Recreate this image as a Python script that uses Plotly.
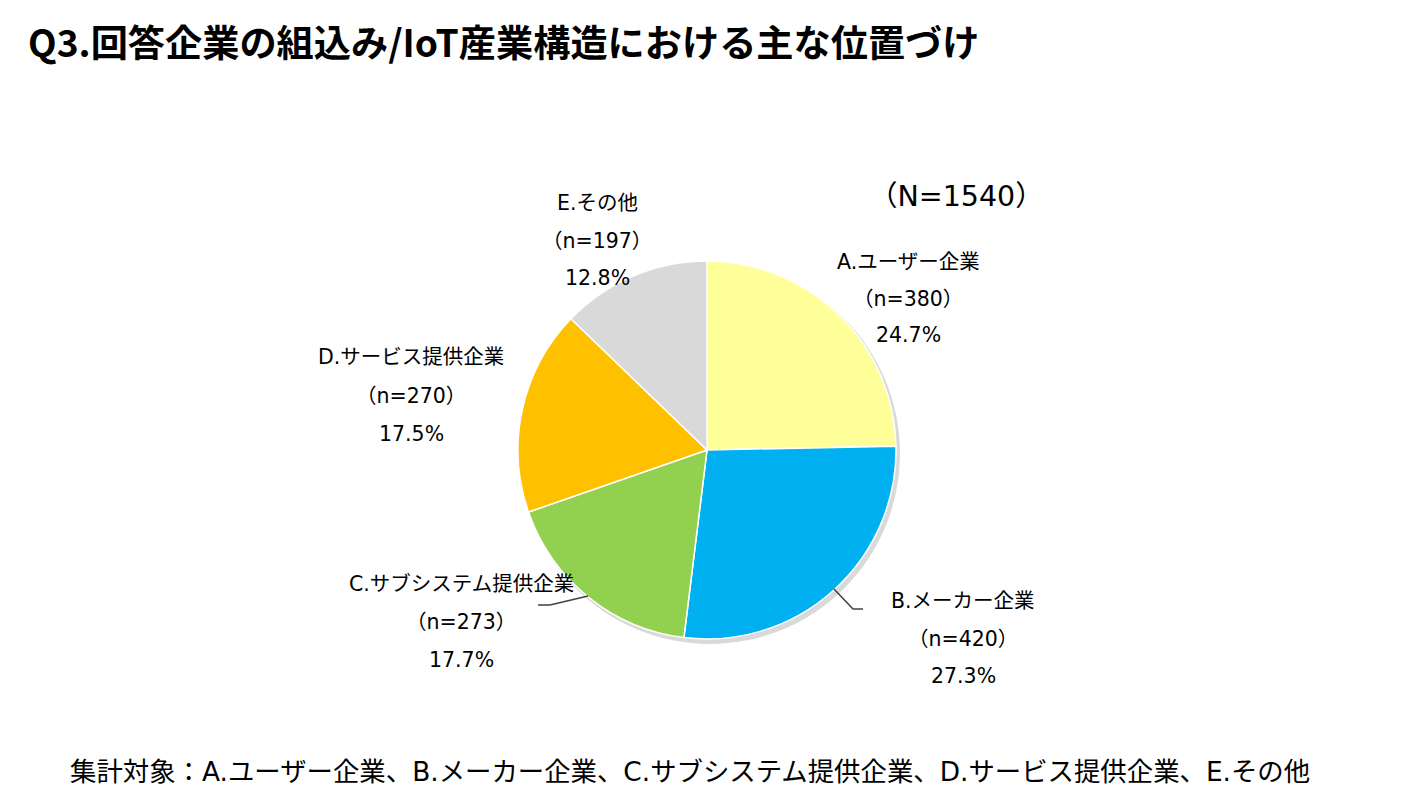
import plotly.graph_objects as go

# page body has an 8px margin; draw on a 1388x788 canvas and shift coordinates
OFF = 8
W, H = 1404 - 2 * OFF, 804 - 2 * OFF

categories = ["A.ユーザー企業", "B.メーカー企業", "C.サブシステム提供企業", "D.サービス提供企業", "E.その他"]
counts = [380, 420, 273, 270, 197]
colors = ["#FFFF99", "#00B0F0", "#92D050", "#FFC000", "#D9D9D9"]
total = sum(counts)

# label anchor (center x, first line y) in reference pixels
label_pos = [(908, 262), (963, 601), (461, 584), (411, 357), (597, 203)]
line_gap = [36.5, 37.5, 38, 38.5, 37.5]

FONT = "DejaVu Sans, Noto Sans CJK JP"
TFONT = "Noto Sans CJK JP"

def px(x):
    return (x - OFF) / W

def py(y):
    return 1 - (y - OFF) / H

cx, cy, r = 707, 450, 189

fig = go.Figure()
fig.add_trace(go.Pie(
    labels=categories,
    values=counts,
    sort=False,
    direction="clockwise",
    rotation=0,
    marker=dict(colors=colors, line=dict(color="white", width=1.5)),
    textinfo="none",
    hoverinfo="label+value+percent",
    showlegend=False,
    domain=dict(x=[px(cx - r), px(cx + r)], y=[py(cy + r), py(cy - r)]),
))

annotations = []
for cat, n, (x, y), g in zip(categories, counts, label_pos, line_gap):
    lines = [cat, f"（n={n}）", f"{n / total * 100:.1f}%"]
    for i, t in enumerate(lines):
        annotations.append(dict(
            x=px(x), y=py(y + i * g), xref="paper", yref="paper",
            text=t, showarrow=False, xanchor="center", yanchor="middle",
            font=dict(family=FONT, size=20.5, color="#000000"),
        ))

annotations.append(dict(
    x=px(957), y=py(197), xref="paper", yref="paper",
    text=f"（N={total}）", showarrow=False, xanchor="center", yanchor="middle",
    font=dict(family=FONT, size=28.5, color="#000000"),
))
annotations.append(dict(
    x=px(26), y=py(41), xref="paper", yref="paper",
    text="<b>Q3.回答企業の組込み/IoT産業構造における主な位置づけ</b>", showarrow=False,
    xanchor="left", yanchor="middle",
    font=dict(family=TFONT, size=37.2, color="#000000"),
))
annotations.append(dict(
    x=px(68), y=py(771), xref="paper", yref="paper",
    text="集計対象：" + "、".join(categories), showarrow=False,
    xanchor="left", yanchor="middle",
    font=dict(family=FONT, size=26.4, color="#000000"),
))

shapes = [
    # subtle shadow
    dict(type="circle", xref="paper", yref="paper", layer="below",
         x0=px(cx - r + 2), x1=px(cx + r + 4), y0=py(cy + r + 5), y1=py(cy - r + 2),
         fillcolor="rgba(0,0,0,0.15)", line=dict(width=0)),
    # leader line B
    dict(type="path", xref="paper", yref="paper",
         path=f"M {px(834)} {py(589)} L {px(853)} {py(609)} L {px(863)} {py(609)}",
         line=dict(color="#404040", width=1.5)),
    # leader line C
    dict(type="path", xref="paper", yref="paper",
         path=f"M {px(588)} {py(596)} L {px(550)} {py(605)} L {px(538)} {py(605)}",
         line=dict(color="#404040", width=1.5)),
]

fig.update_layout(
    width=W, height=H,
    margin=dict(l=0, r=0, t=0, b=0),
    paper_bgcolor="white", plot_bgcolor="white",
    annotations=annotations, shapes=shapes,
)

fig.write_html("out.html")
